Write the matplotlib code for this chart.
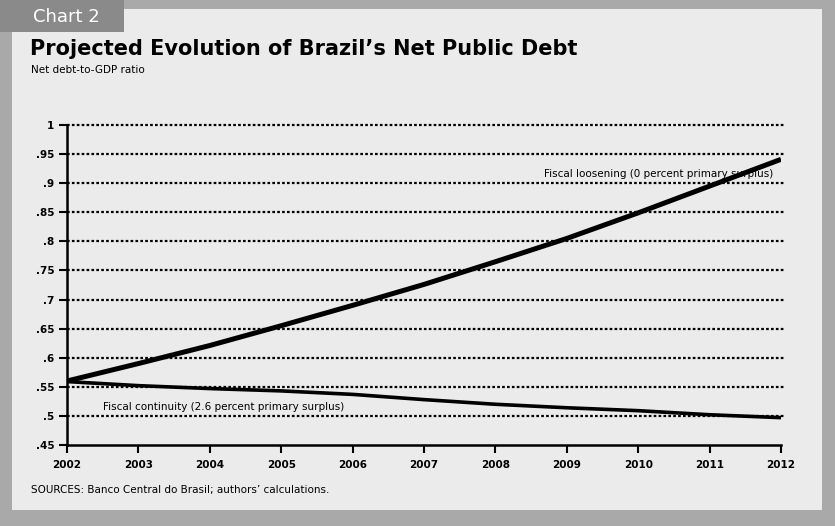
#!/usr/bin/env python3
"""
Projected evolution of Brazil's net public debt, 2002-2012:
fiscal loosening vs fiscal continuity scenarios.
"""
import matplotlib
matplotlib.use("Agg")
import matplotlib.pyplot as plt
from matplotlib.patches import Rectangle

plt.rcParams["font.family"] = ["Liberation Sans Narrow", "DejaVu Sans"]

YEARS = [2002, 2003, 2004, 2005, 2006, 2007, 2008, 2009, 2010, 2011, 2012]
LOOSENING = [0.560, 0.590, 0.621, 0.655, 0.690, 0.726, 0.765, 0.805, 0.849, 0.895, 0.941]
CONTINUITY = [0.559, 0.552, 0.547, 0.543, 0.537, 0.528, 0.520, 0.514, 0.509, 0.502, 0.497]

Y_TICKS = [0.45, 0.50, 0.55, 0.60, 0.65, 0.70, 0.75, 0.80, 0.85, 0.90, 0.95, 1.00]
Y_LABELS = [".45", ".5", ".55", ".6", ".65", ".7", ".75", ".8", ".85", ".9", ".95", "1"]

TITLE = "Projected Evolution of Brazil\u2019s Net Public Debt"
SUBTITLE = "Net debt-to-GDP ratio"
SOURCE = "SOURCES: Banco Central do Brasil; authors\u2019 calculations."
LABEL_LOOSE = "Fiscal loosening (0 percent primary surplus)"
LABEL_CONT = "Fiscal continuity (2.6 percent primary surplus)"

W, H = 835, 526
BG = "#ebebeb"
FRAME = "#a9a9a9"

fig = plt.figure(figsize=(W / 100, H / 100), dpi=100)
fig.patch.set_facecolor(BG)


def px_rect(x0, y0, x1, y1, color):
    """Rectangle in pixel coords (origin top-left)."""
    fig.patches.append(Rectangle((x0 / W, 1 - y1 / H), (x1 - x0) / W, (y1 - y0) / H,
                                 transform=fig.transFigure, facecolor=color,
                                 edgecolor="none", zorder=0))


# stippled frame of the scanned page
px_rect(0, 0, 12, H, FRAME)
px_rect(W - 13, 0, W, H, FRAME)
px_rect(0, 0, W, 9, FRAME)
px_rect(0, H - 16, W, H, FRAME)
px_rect(0, 0, 124, 32, "#8a8a8a")
fig.text(33 / W, 1 - 17 / H, "Chart 2", fontsize=13, color="white",
         ha="left", va="center")

fig.text(30 / W, 1 - 49 / H, TITLE, fontsize=15, fontweight="bold",
         family=["DejaVu Sans"], ha="left", va="center", color="black")
fig.text(31 / W, 1 - 70 / H, SUBTITLE, fontsize=7.5, ha="left", va="center")
fig.text(31 / W, 1 - 490 / H, SOURCE, fontsize=7.5, ha="left", va="center")

ax = fig.add_axes([67 / W, 1 - 445 / H, (781 - 67) / W, (445 - 125) / H])
ax.set_facecolor("none")

for v in Y_TICKS[1:]:
    ax.axhline(v, color="black", linestyle=(0, (1.2, 1.0)), linewidth=1.6,
               xmax=1.005, clip_on=False, zorder=1)

ax.plot(YEARS, LOOSENING, color="black", linewidth=3.6, solid_capstyle="butt", zorder=3)
ax.plot(YEARS, CONTINUITY, color="black", linewidth=2.6, solid_capstyle="butt", zorder=3)

ax.text(2008.68, 0.915, LABEL_LOOSE, fontsize=7.5, ha="left", va="center")
ax.text(2002.5, 0.515, LABEL_CONT, fontsize=7.5, ha="left", va="center")

ax.set_xlim(2002, 2012)
ax.set_ylim(0.45, 1.0)
ax.set_xticks(YEARS)
ax.set_xticklabels([str(y) for y in YEARS], fontsize=7.5, fontweight="bold")
ax.set_yticks(Y_TICKS)
ax.set_yticklabels(Y_LABELS, fontsize=7.5, fontweight="bold")
ax.tick_params(axis="both", direction="out", length=6, width=1.5, color="black")
ax.tick_params(axis="x", pad=5)
ax.tick_params(axis="y", pad=3)

for side in ("top", "right"):
    ax.spines[side].set_visible(False)
for side in ("left", "bottom"):
    ax.spines[side].set_linewidth(1.8)

fig.savefig("out.png", dpi=100, facecolor=fig.get_facecolor())
plt.close(fig)
